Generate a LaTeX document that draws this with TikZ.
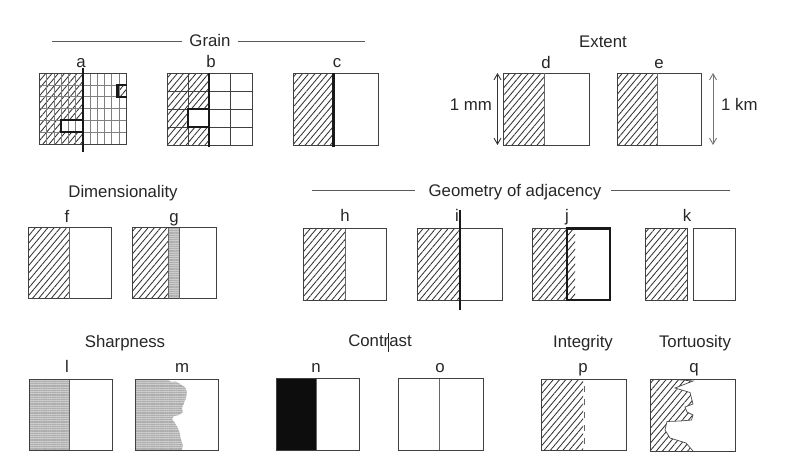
\documentclass[tikz,border=0pt]{standalone}
\usepackage{fontspec}
\setmainfont{Liberation Sans}
\usetikzlibrary{patterns.meta,arrows.meta}
\begin{document}
\begin{tikzpicture}[x=1pt,y=-1pt,
  txt/.style={font=\fontsize{16.8}{19}\selectfont, text=black!85, inner sep=0pt, anchor=base},
  boxline/.style={draw=black!75, line width=0.9pt},
  thinline/.style={draw=black!60, line width=0.8pt},
  boldline/.style={draw=black!90, line width=2.3pt},
  rule/.style={draw=black!65, line width=0.9pt},
  hatch/.style={pattern={Lines[angle=50,distance=4.8pt,line width=0.85pt]}, pattern color=black!80},
  grid/.style={draw=black!50, line width=0.5pt},
  stipple/.style={fill=black!20},
  stipplelines/.style={pattern={Lines[angle=0,distance=1.8pt,line width=0.3pt]}, pattern color=black!32},
  dblarrow/.style={draw=black!80, line width=0.9pt, {Straight Barb[length=6pt,width=7pt]}-{Straight Barb[length=6pt,width=7pt]}}
]
\useasboundingbox (0,0) rectangle (786,464);

% ---------------- Row 1 titles ----------------
\node[txt] (tgrain) at (210,46) {Grain};
\coordinate (gl1) at (52,41); \coordinate (gl2) at (182,41);
\coordinate (gr1) at (238,41); \coordinate (gr2) at (365,41);
\draw[rule] (gl1) -- (gl2);
\draw[rule] (gr1) -- (gr2);
\node[txt] (textent) at (603,47) {Extent};

% ---------------- a ----------------
\node[txt] (la) at (81,67) {a};
\fill[hatch] (39.5,73) rectangle (82.8,144);
\fill[white] (61.1,120.3) rectangle (82.8,132.2);
\fill[hatch] (118.8,84.8) rectangle (126,96.7);
\foreach \i in {1,...,11} \draw[grid] ({39.5+\i*7.21},73) -- ({39.5+\i*7.21},144);
\foreach \j in {1,...,5} \draw[grid] (39.5,{73+\j*11.83}) -- (126,{73+\j*11.83});
\draw[boxline] (39.5,73) rectangle (126,144);
\coordinate (a1) at (82.8,68); \coordinate (a2) at (82.8,152);
\draw[boldline] (a1) -- (a2);
\draw[boldline] (82.8,120.3) -- (61.1,120.3) -- (61.1,132.2) -- (82.8,132.2);
\draw[boldline] (126.5,84.8) -- (117.5,84.8) -- (117.5,96.7) -- (126.5,96.7);

% ---------------- b ----------------
\node[txt] (lb) at (211,67) {b};
\fill[hatch] (167,73) rectangle (209,145);
\fill[white] (188,109) rectangle (209,127);
\foreach \x in {188,230.5} \draw[boxline] (\x,73) -- (\x,145);
\foreach \y in {91,109,127} \draw[boxline] (167,\y) -- (252,\y);
\draw[boxline] (167,73) rectangle (252,145);
\coordinate (b1) at (209,73); \coordinate (b2) at (209,147);
\draw[boldline] (b1) -- (b2);
\draw[boldline] (209,109) -- (188,109) -- (188,127) -- (209,127);

% ---------------- c ----------------
\node[txt] (lc) at (337,67) {c};
\fill[hatch] (293,73) rectangle (333.5,145);
\draw[boxline] (293,73) rectangle (378,145);
\coordinate (c1) at (333.5,73); \coordinate (c2) at (333.5,147);
\draw[boldline] (c1) -- (c2);

% ---------------- d ----------------
\node[txt] (ld) at (546,68) {d};
\fill[hatch] (503.5,73) rectangle (544.5,145);
\draw[boxline] (503.5,73) rectangle (589,145);
\draw[thinline] (544.5,73) -- (544.5,145);
\coordinate (da1) at (497.5,73); \coordinate (da2) at (497.5,145);
\draw[dblarrow] (da1) -- (da2);
\node[txt, anchor=base east] (lmm) at (492,110) {1 mm};

% ---------------- e ----------------
\node[txt] (le) at (659,68) {e};
\fill[hatch] (617,73) rectangle (657.5,145);
\draw[boxline] (617,73) rectangle (701,145);
\draw[thinline] (657.5,73) -- (657.5,145);
\coordinate (ea1) at (713,73); \coordinate (ea2) at (713,145);
\draw[dblarrow, draw=black!55] (ea1) -- (ea2);
\node[txt, anchor=base west] (lkm) at (721,110) {1 km};

% ---------------- Row 2 ----------------
\node[txt] (tdim) at (123,197) {Dimensionality};
\node[txt] (tgeo) at (515,196) {Geometry of adjacency};
\coordinate (ggl1) at (312,190); \coordinate (ggl2) at (415,190);
\coordinate (ggr1) at (611,190); \coordinate (ggr2) at (730,190);
\draw[rule] (ggl1) -- (ggl2);
\draw[rule] (ggr1) -- (ggr2);

% f
\node[txt] (lf) at (67,222) {f};
\fill[hatch] (28.5,227.5) rectangle (69,298.5);
\draw[boxline] (28.5,227.5) rectangle (111.5,298.5);
\draw[thinline] (69,227.5) -- (69,298.5);

% g
\node[txt] (lg) at (174,222) {g};
\fill[hatch] (132.5,227.5) rectangle (168.5,298.5);
\fill[stipple] (168.5,227.5) rectangle (179,298.5);
\fill[stipplelines] (168.5,227.5) rectangle (179,298.5);
\draw[boxline] (132.5,227.5) rectangle (216,298.5);
\draw[thinline] (168.5,227.5) -- (168.5,298.5);
\draw[thinline] (179,227.5) -- (179,298.5);

% h
\node[txt] (lh) at (345,221) {h};
\fill[hatch] (303.5,228.5) rectangle (345,300);
\draw[boxline] (303.5,228.5) rectangle (386.5,300);
\draw[thinline] (345,228.5) -- (345,300);

% i
\node[txt] (li) at (457,221) {i};
\fill[hatch] (417.5,228.5) rectangle (460,300);
\draw[boxline] (417.5,228.5) rectangle (502.5,300);
\coordinate (i1) at (460,210); \coordinate (i2) at (460,310);
\draw[draw=black!90, line width=1.3pt] (i1) -- (i2);

% j
\node[txt] (lj) at (567,221) {j};
\fill[hatch] (532.5,228.5) rectangle (575,300);
\draw[boxline] (567,228.5) -- (532.5,228.5) -- (532.5,300) -- (567,300);
\draw[draw=black!90, line width=2.2pt] (567,228.5) rectangle (610,300);

% k
\node[txt] (lk) at (687,221) {k};
\fill[hatch] (645,228.5) rectangle (687,300);
\draw[boxline] (645,228.5) rectangle (687,300);
\draw[boxline] (693.5,228.5) rectangle (735.5,300);

% ---------------- Row 3 ----------------
\node[txt] (tsharp) at (125,347) {Sharpness};
\node[txt] (tcontr) at (380,346) {Contrast};
\coordinate (cur1) at (388.5,333); \coordinate (cur2) at (388.5,352);
\draw[draw=black!85, line width=0.7pt] (cur1) -- (cur2);
\node[txt] (tinteg) at (583,347) {Integrity};
\node[txt] (ttort) at (695,347) {Tortuosity};

% l
\node[txt] (ll) at (67,372) {l};
\fill[stipple] (29.5,379.5) rectangle (69.5,450);
\fill[stipplelines] (29.5,379.5) rectangle (69.5,450);
\draw[boxline] (29.5,379.5) rectangle (112.5,450);
\draw[thinline] (69.5,379.5) -- (69.5,450);

% m
\node[txt] (lm) at (182,372) {m};
\fill[stipple] (135,379.5) -- (168,379.5) -- (171,382) -- (176,381.5) -- (180,384) -- (185,387) -- (187,392) -- (186,398)
  -- (184,403) -- (182,408) -- (183,412) -- (179,415) -- (174,416) -- (172,419) -- (175,423) -- (178,428)
  -- (180,434) -- (181,440) -- (183,445) -- (182,450) -- (135,450) -- cycle;
\fill[stipplelines] (135,379.5) -- (168,379.5) -- (171,382) -- (176,381.5) -- (180,384) -- (185,387) -- (187,392) -- (186,398)
  -- (184,403) -- (182,408) -- (183,412) -- (179,415) -- (174,416) -- (172,419) -- (175,423) -- (178,428)
  -- (180,434) -- (181,440) -- (183,445) -- (182,450) -- (135,450) -- cycle;
\draw[boxline] (135,379.5) rectangle (218.5,450);

% n
\node[txt] (ln) at (316,372) {n};
\fill[black!95] (276,378.5) rectangle (316,450);
\draw[boxline] (276,378.5) rectangle (359,450);
\draw[thinline] (316,378.5) -- (316,450);

% o
\node[txt] (lo) at (440,372) {o};
\draw[boxline] (398,378.5) rectangle (483.5,450);
\draw[thinline] (439,378.5) -- (439,450);

% p
\node[txt] (lp) at (583,372) {p};
\fill[hatch] (541,379.5) rectangle (583,450.5);
\draw[boxline] (541,379.5) rectangle (626.5,450.5);
\draw[thinline, dash pattern=on 6pt off 7pt] (584,386) -- (584,450.5);

% q
\node[txt] (lq) at (694,372) {q};
\fill[hatch] (650,379.5) -- (676,379.5) -- (693,381) -- (675,388) -- (690,392.5) -- (693,404) -- (685,407)
  -- (687,412) -- (693,415) -- (691.5,420) -- (680,421) -- (667,421.5) -- (665,430) -- (670,438) -- (686,443)
  -- (693,451) -- (650,451) -- cycle;
\draw[draw=black!70, line width=0.7pt] (676,379.5) -- (693,381) -- (675,388) -- (690,392.5) -- (693,404) -- (685,407)
  -- (687,412) -- (693,415) -- (691.5,420) -- (680,421) -- (667,421.5) -- (665,430) -- (670,438) -- (686,443)
  -- (693,451);
\draw[boxline] (650,379.5) rectangle (735,451);
\end{tikzpicture}
\end{document}
